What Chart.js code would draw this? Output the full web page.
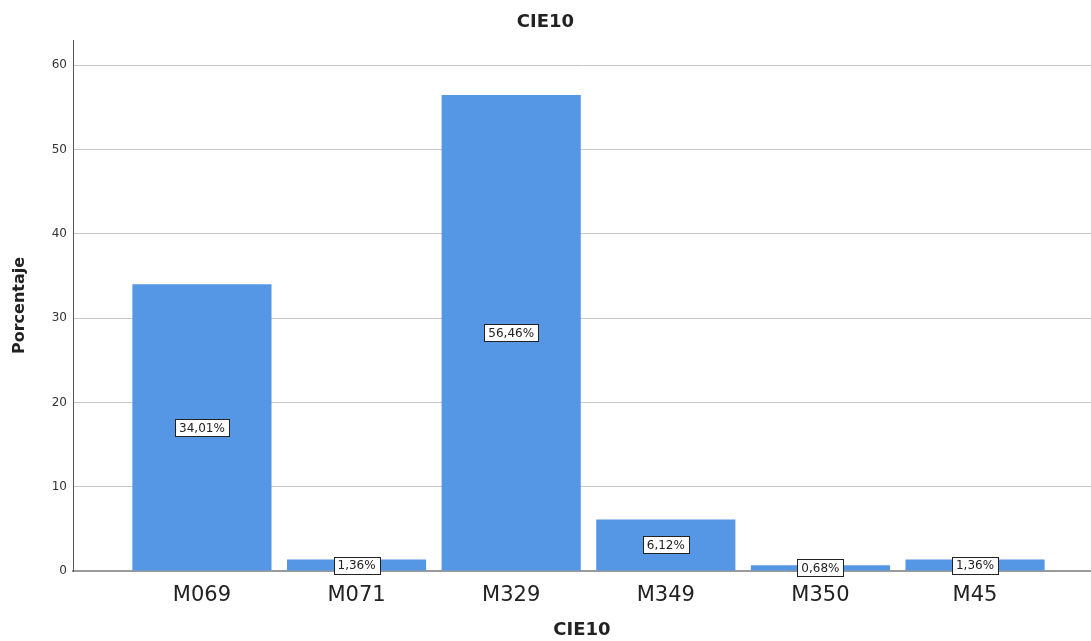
<!DOCTYPE html>
<html>
<head>
<meta charset="utf-8">
<script src="https://cdn.jsdelivr.net/npm/chart.js@4"></script>
<style>
    html, body { margin: 0; padding: 0; background: #ffffff; }
    #wrap { width: 1091px; height: 641px; }
</style>
</head>
<body>
<div id="wrap"><canvas id="chart" width="1091" height="641"></canvas></div>
<script>
const categories = ["M069", "M071", "M329", "M349", "M350", "M45"];
const percentages = [34.01, 1.36, 56.46, 6.12, 0.68, 1.36];
const yTicks = [0, 10, 20, 30, 40, 50, 60];

const FONT = "'DejaVu Sans', sans-serif";

// caja blanca con el porcentaje en el centro de cada barra
const boxLabels = {
    id: "boxLabels",
    afterDatasetsDraw(chart) {
        const ctx = chart.ctx;
        const meta = chart.getDatasetMeta(0);
        ctx.save();
        ctx.font = "12px " + FONT;
        ctx.textAlign = "center";
        ctx.textBaseline = "middle";
        meta.data.forEach((bar, i) => {
            const text = percentages[i].toFixed(2).replace(".", ",") + "%";
            const w = Math.round(ctx.measureText(text).width + 8);
            const h = 17;
            const cx = bar.x;
            const cy = (bar.y + bar.base) / 2;
            const left = Math.round(cx - w / 2) + 0.5;
            const top = Math.round(cy - h / 2) + 0.5;
            ctx.fillStyle = "#ffffff";
            ctx.fillRect(left, top, w, h);
            ctx.strokeStyle = "#222222";
            ctx.lineWidth = 1;
            ctx.strokeRect(left, top, w, h);
            ctx.fillStyle = "#222222";
            ctx.fillText(text, cx, cy + 1);
        });
        ctx.restore();
    }
};

new Chart(document.getElementById("chart"), {
    type: "bar",
    data: {
        datasets: [{
            data: percentages.map((v, i) => ({ x: i, y: v })),
            backgroundColor: "#5596e5",
            borderWidth: 0,
            barPercentage: 0.9,
            categoryPercentage: 1
        }]
    },
    options: {
        responsive: false,
        animation: false,
        layout: { padding: 0 },
        plugins: {
            legend: { display: false },
            tooltip: { enabled: false },
            title: {
                display: true,
                text: "CIE10",
                color: "#222222",
                font: { family: FONT, size: 18, weight: "bold" },
                padding: { top: 12, bottom: 6.4 }
            }
        },
        scales: {
            x: {
                type: "linear",
                offset: false,
                min: -0.834,
                max: 5.75,
                afterBuildTicks: scale => {
                    scale.ticks = categories.map((c, i) => ({ value: i }));
                },
                afterFit: scale => { scale.height = 70; },
                ticks: {
                    callback: v => categories[v],
                    color: "#222222",
                    padding: 4,
                    maxRotation: 0,
                    autoSkip: false,
                    font: { family: FONT, size: 21 }
                },
                grid: { display: false, offset: false },
                border: { display: true, color: "#9a9a9a", width: 2 },
                title: {
                    display: true,
                    text: "CIE10",
                    color: "#222222",
                    font: { family: FONT, size: 18, weight: "bold" },
                    padding: { top: 0, bottom: 0 }
                }
            },
            y: {
                min: 0,
                max: 63,
                afterBuildTicks: scale => {
                    scale.ticks = yTicks.map(v => ({ value: v }));
                },
                afterFit: scale => { scale.width = 73; },
                ticks: {
                    color: "#333333",
                    padding: 6,
                    font: { family: FONT, size: 12 }
                },
                grid: { color: "#c6c6c6", lineWidth: 1, drawTicks: false },
                border: { display: true, color: "#555555", width: 1 },
                title: {
                    display: true,
                    text: "Porcentaje",
                    color: "#222222",
                    font: { family: FONT, size: 16, weight: "bold" },
                    padding: { top: 10, bottom: 0 }
                }
            }
        }
    },
    plugins: [boxLabels]
});
</script>
</body>
</html>
